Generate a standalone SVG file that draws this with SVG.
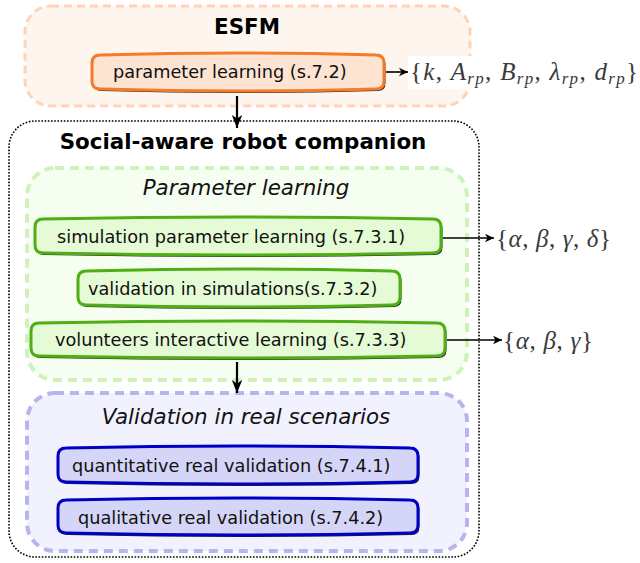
<svg xmlns="http://www.w3.org/2000/svg" width="640" height="563" viewBox="0 0 640 563">
<style>
.t{font-family:"DejaVu Sans",sans-serif;font-size:17.7px;fill:#111}
.h{font-family:"DejaVu Sans",sans-serif;font-size:21.4px;font-weight:bold;fill:#000}
.i{font-family:"DejaVu Sans",sans-serif;font-size:21.4px;font-style:italic;fill:#111}
.m{font-family:"Liberation Serif",serif;font-size:25px;fill:#3a3a3a}
.mi{font-style:italic}
.sh{fill:#000;opacity:0.85}
.or{fill:#fde3d1;stroke:#f47b29;stroke-width:3}
.gr{fill:#e5fbd6;stroke:#4fae14;stroke-width:3}
.bl{fill:#d5d5f8;stroke:#0000c4;stroke-width:3}
.ar{fill:none;stroke:#000;stroke-width:1.6}
.ad{fill:none;stroke:#000;stroke-width:2.2}
</style>
<defs>
<marker id="ah" markerWidth="12" markerHeight="10" refX="9" refY="5" orient="auto" markerUnits="userSpaceOnUse">
<path d="M9,5 L0,0.8 L2.5,5 L0,9.2 Z" fill="#000"/>
</marker>
<marker id="ahd" markerWidth="16" markerHeight="12" refX="13" refY="6" orient="auto" markerUnits="userSpaceOnUse">
<path d="M13,6 L0,0.8 L3.5,6 L0,11.2 Z" fill="#000"/>
</marker>
</defs>

<g id="esfm">
<rect x="25" y="6" width="445" height="100" rx="26" fill="#fff5ef" stroke="#ffd3b6" stroke-width="3" stroke-dasharray="8 5"/>
<text class="h" x="247" y="34" text-anchor="middle">ESFM</text>
</g>

<g id="social">
<rect x="9" y="121" width="470" height="436" rx="26" fill="none" stroke="#000" stroke-width="1.6" stroke-dasharray="1.6 1.6"/>
<text class="h" x="243" y="149" text-anchor="middle">Social-aware robot companion</text>
</g>

<g id="param-group">
<rect x="27" y="168" width="440" height="212" rx="28" fill="#f6fdf1" stroke="#cdf2ba" stroke-width="4" stroke-dasharray="9 6"/>
<text class="i" x="246" y="195" text-anchor="middle">Parameter learning</text>
</g>

<g id="valid-group">
<rect x="27" y="393" width="440" height="158" rx="28" fill="#f2f2ff" stroke="#b5b5f0" stroke-width="4" stroke-dasharray="9 6"/>
<text class="i" x="246" y="424" text-anchor="middle">Validation in real scenarios</text>
</g>

<g id="param-learning">
<path class="sh" transform="translate(1.5,2)" d="M100,55 Q238,51 376,55 Q384,55 384,63 L384,81 Q384,89 376,89 Q238,93 100,89 Q92,89 92,81 L92,63 Q92,55 100,55 Z"/>
<path class="or" d="M100,55 Q238,51 376,55 Q384,55 384,63 L384,81 Q384,89 376,89 Q238,93 100,89 Q92,89 92,81 L92,63 Q92,55 100,55 Z"/>
<text class="t" x="113" y="78">parameter learning (s.7.2)</text>
</g>

<g id="sim-param">
<path class="sh" transform="translate(1.5,2)" d="M43,219 Q238,215 433,219 Q441,219 441,227 L441,245 Q441,253 433,253 Q238,257 43,253 Q35,253 35,245 L35,227 Q35,219 43,219 Z"/>
<path class="gr" d="M43,219 Q238,215 433,219 Q441,219 441,227 L441,245 Q441,253 433,253 Q238,257 43,253 Q35,253 35,245 L35,227 Q35,219 43,219 Z"/>
<text class="t" x="57" y="243">simulation parameter learning (s.7.3.1)</text>
</g>

<g id="valid-sim">
<path class="sh" transform="translate(1.5,2)" d="M86,271 Q239,267 392,271 Q400,271 400,279 L400,297 Q400,305 392,305 Q239,309 86,305 Q78,305 78,297 L78,279 Q78,271 86,271 Z"/>
<path class="gr" d="M86,271 Q239,267 392,271 Q400,271 400,279 L400,297 Q400,305 392,305 Q239,309 86,305 Q78,305 78,297 L78,279 Q78,271 86,271 Z"/>
<text class="t" x="88" y="295">validation in simulations(s.7.3.2)</text>
</g>

<g id="volunteers">
<path class="sh" transform="translate(1.5,2)" d="M39,323 Q238,319 437,323 Q445,323 445,331 L445,348 Q445,356 437,356 Q238,360 39,356 Q31,356 31,348 L31,331 Q31,323 39,323 Z"/>
<path class="gr" d="M39,323 Q238,319 437,323 Q445,323 445,331 L445,348 Q445,356 437,356 Q238,360 39,356 Q31,356 31,348 L31,331 Q31,323 39,323 Z"/>
<text class="t" x="55" y="346">volunteers interactive learning (s.7.3.3)</text>
</g>

<g id="quantitative">
<path class="sh" transform="translate(1.5,2)" d="M66,448 Q238,444 410,448 Q418,448 418,456 L418,474 Q418,482 410,482 Q238,486 66,482 Q58,482 58,474 L58,456 Q58,448 66,448 Z"/>
<path class="bl" d="M66,448 Q238,444 410,448 Q418,448 418,456 L418,474 Q418,482 410,482 Q238,486 66,482 Q58,482 58,474 L58,456 Q58,448 66,448 Z"/>
<text class="t" x="72" y="472">quantitative real validation (s.7.4.1)</text>
</g>

<g id="qualitative">
<path class="sh" transform="translate(1.5,2)" d="M66,500 Q238,496 410,500 Q418,500 418,508 L418,525 Q418,533 410,533 Q238,537 66,533 Q58,533 58,525 L58,508 Q58,500 66,500 Z"/>
<path class="bl" d="M66,500 Q238,496 410,500 Q418,500 418,508 L418,525 Q418,533 410,533 Q238,537 66,533 Q58,533 58,525 L58,508 Q58,500 66,500 Z"/>
<text class="t" x="78" y="524">qualitative real validation (s.7.4.2)</text>
</g>

<g id="label-esfm">
<rect x="408" y="56" width="232" height="33" fill="#fff"/>
<text class="m" x="410" y="80" textLength="228" lengthAdjust="spacing">{<tspan class="mi">k</tspan>, <tspan class="mi">A</tspan><tspan class="mi" font-size="17" dy="4">rp</tspan><tspan dy="-4">, </tspan><tspan class="mi">B</tspan><tspan class="mi" font-size="17" dy="4">rp</tspan><tspan dy="-4">, </tspan><tspan class="mi">λ</tspan><tspan class="mi" font-size="17" dy="4">rp</tspan><tspan dy="-4">, </tspan><tspan class="mi">d</tspan><tspan class="mi" font-size="17" dy="4">rp</tspan><tspan dy="-4">}</tspan></text>
</g>

<g id="label-sim">
<text class="m" x="496" y="247" font-size="27" textLength="115" lengthAdjust="spacing">{<tspan class="mi">α</tspan>, <tspan class="mi">β</tspan>, <tspan class="mi">γ</tspan>, <tspan class="mi">δ</tspan>}</text>
</g>

<g id="label-vol">
<text class="m" x="503" y="349" font-size="27" textLength="90" lengthAdjust="spacing">{<tspan class="mi">α</tspan>, <tspan class="mi">β</tspan>, <tspan class="mi">γ</tspan>}</text>
</g>

<g id="connectors">
<line class="ar" x1="386" y1="72" x2="408" y2="72" marker-end="url(#ah)"/>
<line class="ad" x1="237" y1="96" x2="237" y2="128" marker-end="url(#ahd)"/>
<line class="ar" x1="443" y1="238" x2="494" y2="238" marker-end="url(#ah)"/>
<line class="ar" x1="447" y1="340" x2="502" y2="340" marker-end="url(#ah)"/>
<line class="ad" x1="237" y1="362" x2="237" y2="393" marker-end="url(#ahd)"/>
</g>
</svg>
